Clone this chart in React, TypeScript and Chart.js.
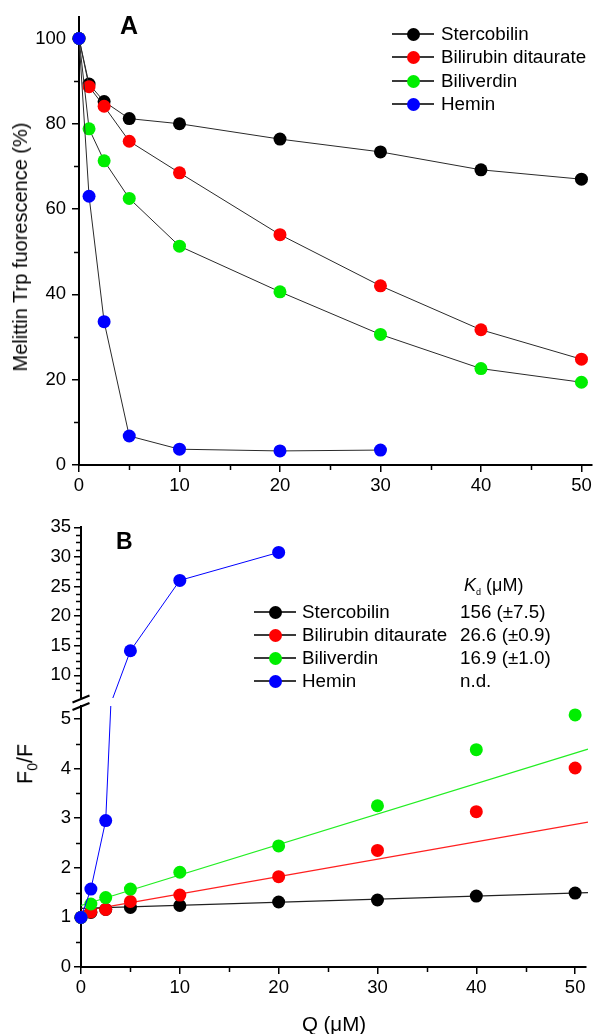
import React, { useEffect, useRef } from 'react';
import { Chart, registerables } from 'chart.js';

Chart.register(...registerables);

const FONT = '"Liberation Sans", Arial, Helvetica, sans-serif';
Chart.defaults.font.family = FONT;

// ---------- data ----------
const seriesNames = ['Stercobilin', 'Bilirubin ditaurate', 'Biliverdin', 'Hemin'];
const seriesColors = ['#000000', '#ff0000', '#00ee00', '#0000ff'];

// Panel A : Melittin Trp fluorescence (%)
const concA = [0, 1, 2.5, 5, 10, 20, 30, 40, 50];
const stercobilinA = [100, 89.3, 85.2, 81.2, 80.0, 76.4, 73.4, 69.2, 67.0];
const bilirubinA = [100, 88.7, 84.1, 75.9, 68.5, 54.0, 42.0, 31.7, 24.8];
const biliverdinA = [100, 78.8, 71.3, 62.5, 51.3, 40.6, 30.6, 22.6, 19.4];
const concHeminA = [0, 1, 2.5, 5, 10, 20, 30];
const heminA = [100, 63.0, 33.6, 6.8, 3.7, 3.3, 3.5];

// Panel B : F0/F
const concB = [0, 1, 2.5, 5, 10, 20, 30, 40, 50];
const stercobilinB = [1.0, 1.1, 1.16, 1.2, 1.24, 1.31, 1.35, 1.43, 1.49];
const bilirubinB = [1.0, 1.11, 1.16, 1.32, 1.45, 1.82, 2.35, 3.13, 4.01];
const biliverdinB = [1.0, 1.27, 1.4, 1.57, 1.91, 2.44, 3.25, 4.38, 5.08];
const concHeminB = [0, 1, 2.5, 5, 10, 20];
const heminB = [1.0, 1.57, 2.95, 14.16, 26.04, 30.76];

// Linear fits (panel B)
const fitConc = [0, 51.3];
const stercobilinFit = [1.18, 1.5];
const bilirubinFit = [1.12, 2.92];
const biliverdinFit = [1.24, 4.39];

const kdValues = ['156 (±7.5)', '26.6 (±0.9)', '16.9 (±1.0)', 'n.d.'];

// ticks
const xTicks = [0, 10, 20, 30, 40, 50];
const xMinorTicks = [5, 15, 25, 35, 45];
const yTicksA = [0, 20, 40, 60, 80, 100];
const yMinorA = [10, 30, 50, 70, 90];
const yTicksBUpper = [10, 15, 20, 25, 30, 35];
const yMinorBUpper = [7.5, 8.75, 11.25, 12.5, 13.75, 16.25, 17.5, 18.75, 21.25, 22.5, 23.75, 26.25, 27.5, 28.75, 31.25, 32.5, 33.75];
const yTicksBLower = [0, 1, 2, 3, 4, 5];
const yMinorBLower = [0.5, 1.5, 2.5, 3.5, 4.5];

const pts = (xs: number[], ys: number[]) => ys.map((y, i) => ({ x: xs[i], y }));

const R = 6.5;

// ---------- helpers ----------
function minorTickPlugin(xMinor: number[] | null, yMinor: number[], breakMarks = false) {
  return {
    id: 'minorTicks',
    afterDraw(chart: any) {
      const { ctx, chartArea, scales } = chart;
      ctx.save();
      ctx.strokeStyle = '#000';
      ctx.lineWidth = 1.5;
      ctx.beginPath();
      if (xMinor) {
        for (const v of xMinor) {
          const px = Math.round(scales.x.getPixelForValue(v)) + 0.5;
          ctx.moveTo(px, chartArea.bottom + 1);
          ctx.lineTo(px, chartArea.bottom + 5);
        }
      }
      for (const v of yMinor) {
        const py = Math.round(scales.y.getPixelForValue(v)) + 0.5;
        if (py < chartArea.top - 0.5 || py > chartArea.bottom + 0.5) continue;
        ctx.moveTo(chartArea.left - 1, py);
        ctx.lineTo(chartArea.left - 5, py);
      }
      ctx.stroke();
      if (breakMarks) {
        const l = chartArea.left;
        const t = chartArea.top;
        ctx.lineWidth = 2;
        ctx.beginPath();
        ctx.moveTo(l - 8.5, t - 3.5);
        ctx.lineTo(l + 8.5, t - 10.5);
        ctx.moveTo(l - 8.5, t + 4);
        ctx.lineTo(l + 8.5, t - 3);
        ctx.stroke();
      }
      ctx.restore();
    },
  };
}

const tickFont = { family: FONT, size: 18.5 };
const gridOpts = { display: true, drawOnChartArea: false, drawTicks: true, tickLength: 7, color: '#000', lineWidth: 1.5 };
const borderOpts = { display: true, color: '#000', width: 2 };

function ChartCanvas({ top, height, make }: { top: number; height: number; make: () => any }) {
  const ref = useRef<HTMLCanvasElement>(null);
  useEffect(() => {
    const chart = new Chart(ref.current as HTMLCanvasElement, make());
    return () => chart.destroy();
  }, []);
  return (
    <canvas
      ref={ref}
      width={598}
      height={height}
      style={{ position: 'absolute', left: 0, top, width: 598, height }}
    />
  );
}

function configA() {
  const ys = [stercobilinA, bilirubinA, biliverdinA];
  const datasets: any[] = ys.map((d, i) => ({
    label: seriesNames[i],
    data: pts(concA, d),
    showLine: true,
    borderColor: '#2a2a2a',
    borderWidth: 1,
    pointRadius: R,
    pointBorderWidth: 0,
    pointBackgroundColor: seriesColors[i],
    order: 3 - i,
    clip: { left: 12, right: 12, top: 12, bottom: 12 },
  }));
  datasets.push({
    label: seriesNames[3],
    data: pts(concHeminA, heminA),
    showLine: true,
    borderColor: '#2a2a2a',
    borderWidth: 1,
    pointRadius: R,
    pointBorderWidth: 0,
    pointBackgroundColor: seriesColors[3],
    order: 0,
    clip: { left: 12, right: 12, top: 12, bottom: 12 },
  });
  return {
    type: 'scatter',
    data: { datasets },
    options: {
      responsive: false,
      animation: false,
      devicePixelRatio: 1,
      layout: { padding: { top: 14, right: 1, left: 0, bottom: 0 } },
      plugins: { legend: { display: false }, tooltip: { enabled: false } },
      scales: {
        x: {
          type: 'linear',
          min: 0,
          max: 51,
          afterBuildTicks: (s: any) => { s.ticks = xTicks.map((v) => ({ value: v })); },
          afterFit: (s: any) => { s.height = 35; },
          grid: gridOpts,
          border: borderOpts,
          ticks: { color: '#000', font: tickFont, padding: 3, maxRotation: 0, autoSkip: false },
        },
        y: {
          type: 'linear',
          min: 0,
          max: 105,
          afterBuildTicks: (s: any) => { s.ticks = yTicksA.map((v) => ({ value: v })); },
          afterFit: (s: any) => { s.width = 79; },
          grid: gridOpts,
          border: borderOpts,
          ticks: { color: '#000', font: tickFont, padding: 6, autoSkip: false },
        },
      },
    },
    plugins: [minorTickPlugin(xMinorTicks, yMinorA)],
  };
}

function configBUpper() {
  return {
    type: 'scatter',
    data: {
      datasets: [
        {
          label: seriesNames[3],
          data: pts(concHeminB, heminB),
          showLine: true,
          borderColor: '#0000ff',
          borderWidth: 1,
          pointRadius: R,
          pointBorderWidth: 0,
          pointBackgroundColor: seriesColors[3],
          clip: { left: 12, right: 12, top: 12, bottom: 0 },
        },
      ],
    },
    options: {
      responsive: false,
      animation: false,
      devicePixelRatio: 1,
      layout: { padding: { top: 37.3, right: 12, left: 0, bottom: 13.4 } },
      plugins: { legend: { display: false }, tooltip: { enabled: false } },
      scales: {
        x: { type: 'linear', min: 0, max: 51.1, display: false },
        y: {
          type: 'linear',
          min: 6.2,
          max: 35,
          afterBuildTicks: (s: any) => { s.ticks = yTicksBUpper.map((v) => ({ value: v })); },
          afterFit: (s: any) => { s.width = 81; },
          grid: gridOpts,
          border: borderOpts,
          ticks: { color: '#000', font: tickFont, padding: 3, autoSkip: false },
        },
      },
    },
    plugins: [minorTickPlugin(null, yMinorBUpper)],
  };
}

function configBLower() {
  const clip = { left: 12, right: 12, top: 0, bottom: 12 };
  const fits = [stercobilinFit, bilirubinFit, biliverdinFit];
  const fitColors = ['#222222', '#ff2020', '#22ee22'];
  const datasets: any[] = fits.map((f, i) => ({
    label: seriesNames[i] + ' fit',
    data: pts(fitConc, f),
    showLine: true,
    borderColor: fitColors[i],
    borderWidth: 1.2,
    pointRadius: 0,
    order: 10 + i,
    clip,
  }));
  const ys = [stercobilinB, bilirubinB, biliverdinB];
  ys.forEach((d, i) => {
    datasets.push({
      label: seriesNames[i],
      data: pts(concB, d),
      showLine: false,
      pointRadius: R,
      pointBorderWidth: 0,
      pointBackgroundColor: seriesColors[i],
      order: 3 - i,
      clip,
    });
  });
  datasets.push({
    label: seriesNames[3],
    data: pts(concHeminB, heminB),
    showLine: true,
    borderColor: '#0000ff',
    borderWidth: 1,
    pointRadius: R,
    pointBorderWidth: 0,
    pointBackgroundColor: seriesColors[3],
    order: 0,
    clip,
  });
  return {
    type: 'scatter',
    data: { datasets },
    options: {
      responsive: false,
      animation: false,
      devicePixelRatio: 1,
      layout: { padding: { top: 16, right: 12, left: 0, bottom: 0 } },
      plugins: { legend: { display: false }, tooltip: { enabled: false } },
      scales: {
        x: {
          type: 'linear',
          min: 0,
          max: 51.1,
          afterBuildTicks: (s: any) => { s.ticks = xTicks.map((v) => ({ value: v })); },
          afterFit: (s: any) => { s.height = 67; },
          grid: gridOpts,
          border: borderOpts,
          ticks: { color: '#000', font: tickFont, padding: 3, maxRotation: 0, autoSkip: false },
        },
        y: {
          type: 'linear',
          min: 0,
          max: 5.26,
          afterBuildTicks: (s: any) => { s.ticks = yTicksBLower.map((v) => ({ value: v })); },
          afterFit: (s: any) => { s.width = 81; },
          grid: gridOpts,
          border: borderOpts,
          ticks: { color: '#000', font: tickFont, padding: 3, autoSkip: false },
        },
      },
    },
    plugins: [minorTickPlugin(xMinorTicks, yMinorBLower, true)],
  };
}

// ---------- HTML text helpers ----------
const ASC = 0.8465;

function Txt({ x, baseline, size, children, bold, italic, anchor }: any) {
  const style: React.CSSProperties = {
    position: 'absolute',
    left: x,
    top: baseline - ASC * size,
    fontSize: size,
    lineHeight: `${size}px`,
    fontFamily: FONT,
    fontWeight: bold ? 'bold' : 'normal',
    fontStyle: italic ? 'italic' : 'normal',
    whiteSpace: 'nowrap',
    color: '#000',
    transform: anchor === 'middle' ? 'translateX(-50%)' : undefined,
  };
  return <div style={style}>{children}</div>;
}

function Rotated({ cx, cy, size, children }: any) {
  return (
    <div
      style={{
        position: 'absolute',
        left: cx,
        top: cy,
        transform: 'translate(-50%, -50%) rotate(-90deg)',
        fontSize: size,
        lineHeight: `${size}px`,
        fontFamily: FONT,
        whiteSpace: 'nowrap',
        color: '#000',
      }}
    >
      {children}
    </div>
  );
}

function LegendRow({ y, lineX, dotX, textX, color, label, size }: any) {
  return (
    <>
      <div style={{ position: 'absolute', left: lineX, top: Math.round(y) - 1, width: 2 * (dotX - lineX), height: 1.5, background: '#3a3a3a' }} />
      <div style={{ position: 'absolute', left: dotX - R, top: Math.round(y) - R, width: 2 * R, height: 2 * R, borderRadius: R, background: color }} />
      <Txt x={textX} baseline={y + 0.358 * size} size={size}>{label}</Txt>
    </>
  );
}

export default function App() {
  const legendA = [34, 57.3, 80.7, 104];
  const legendB = [611.7, 635, 658, 680.7];
  const LS = 18.8;
  return (
    <div style={{ position: 'absolute', left: 0, top: 0, width: 598, height: 1034, background: '#fff', overflow: 'hidden' }}>
      <ChartCanvas top={0} height={500} make={configA} />
      <ChartCanvas top={490} height={222} make={configBUpper} />
      <ChartCanvas top={690} height={344} make={configBLower} />

      <Txt x={120} baseline={34} size={25} bold>A</Txt>
      <Txt x={116} baseline={549} size={23} bold>B</Txt>

      {seriesNames.map((n, i) => (
        <LegendRow key={'a' + i} y={legendA[i]} lineX={392} dotX={413} textX={441} color={seriesColors[i]} label={n} size={LS} />
      ))}
      {seriesNames.map((n, i) => (
        <LegendRow key={'b' + i} y={legendB[i]} lineX={254} dotX={275} textX={302} color={seriesColors[i]} label={n} size={LS} />
      ))}
      {kdValues.map((k, i) => (
        <Txt key={'k' + i} x={460} baseline={legendB[i] + 0.358 * LS} size={LS}>{k}</Txt>
      ))}
      <Txt x={464} baseline={591} size={18}>
        <i>K</i>
        <span style={{ fontSize: 9, position: 'relative', top: 4 }}>d</span>
        <span> (μM)</span>
      </Txt>

      <Rotated cx={20} cy={247} size={20}>Melittin Trp fuorescence (%)</Rotated>
      <Rotated cx={27} cy={764} size={21.5}>
        F<sub style={{ fontSize: 14, verticalAlign: 'baseline', position: 'relative', top: 5 }}>0</sub>/F
      </Rotated>
      <Txt x={334} baseline={1031} size={20.5} anchor="middle">Q (μM)</Txt>
    </div>
  );
}
